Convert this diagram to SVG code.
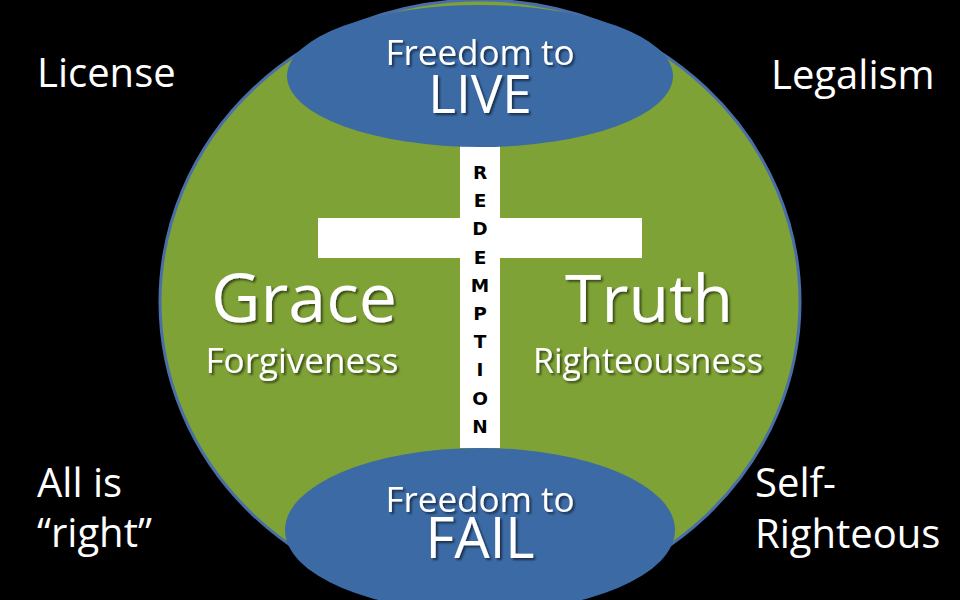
<svg xmlns="http://www.w3.org/2000/svg" width="960" height="600" viewBox="0 0 960 600">
  <defs>
    <filter id="sh" x="-10%" y="-10%" width="130%" height="140%">
      <feDropShadow dx="2" dy="2" stdDeviation="1.2" flood-color="#000" flood-opacity="0.55"/>
    </filter>
    <style>
      .t { font-family: "Open Sans", "Liberation Sans", sans-serif; fill: #ffffff; }
      .c { text-anchor: middle; }
      .sh { filter: url(#sh); }
      .oval { fill: #3b6aa5; }
      .bar { fill: #ffffff; }
      .red { font-family: "DejaVu Sans", "Liberation Sans", sans-serif; font-weight: bold; font-size: 18.5px; fill: #000; text-anchor: middle; }
    </style>
  </defs>
  <rect width="960" height="600" fill="#000"/>

  <g id="circle">
    <ellipse cx="480" cy="302" rx="320" ry="302" fill="#7ea235" stroke="#4a6fa8" stroke-width="3"/>
  </g>

  <g id="cross">
    <rect class="bar" x="460" y="140" width="40" height="308"/>
    <rect class="bar" x="318" y="218" width="324" height="40"/>
    <g id="redemption">
      <text class="red" x="480" y="179">R</text>
      <text class="red" x="480" y="207.2">E</text>
      <text class="red" x="480" y="235.4">D</text>
      <text class="red" x="480" y="263.6">E</text>
      <text class="red" x="480" y="291.8">M</text>
      <text class="red" x="480" y="320">P</text>
      <text class="red" x="480" y="348.2">T</text>
      <text class="red" x="480" y="376.4">I</text>
      <text class="red" x="480" y="404.6">O</text>
      <text class="red" x="480" y="432.8">N</text>
    </g>
  </g>

  <g id="top-oval">
    <ellipse class="oval" cx="480" cy="76" rx="193" ry="71"/>
    <text class="t c sh" x="480" y="65" font-size="35">Freedom to</text>
    <text class="t c sh" x="480" y="113" font-size="53">LIVE</text>
  </g>

  <g id="bottom-oval">
    <ellipse class="oval" cx="480" cy="530" rx="195" ry="82"/>
    <text class="t c sh" x="480" y="512" font-size="35">Freedom to</text>
    <text class="t c sh" x="480" y="558" font-size="56">FAIL</text>
  </g>

  <g id="grace">
    <text class="t c sh" x="304" y="322" font-size="68">Grace</text>
    <text class="t c sh" x="302" y="373" font-size="35">Forgiveness</text>
  </g>

  <g id="truth">
    <text class="t c sh" x="649" y="322" font-size="66">Truth</text>
    <text class="t c sh" x="648" y="373" font-size="34">Righteousness</text>
  </g>

  <g id="license">
    <text class="t" x="37" y="87" font-size="40">License</text>
  </g>
  <g id="legalism">
    <text class="t" x="771" y="89" font-size="40">Legalism</text>
  </g>
  <g id="all-is-right">
    <text class="t" x="37" y="497" font-size="40">All is</text>
    <text class="t" x="37" y="547" font-size="40">“right”</text>
  </g>
  <g id="self-righteous">
    <text class="t" x="755" y="497" font-size="40">Self-</text>
    <text class="t" x="755" y="548" font-size="40">Righteous</text>
  </g>
</svg>
